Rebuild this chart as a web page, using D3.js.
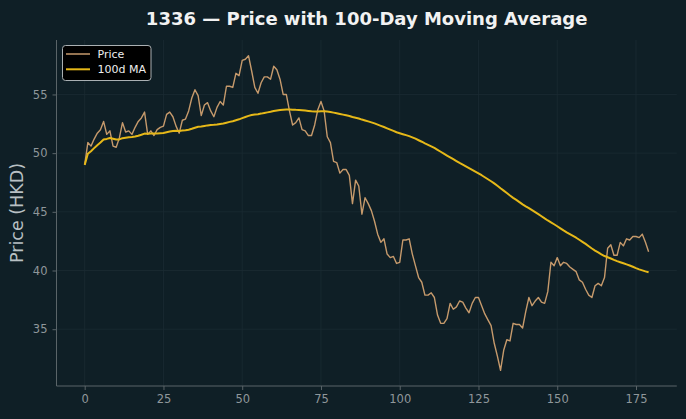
<!DOCTYPE html>
<html>
<head>
<meta charset="utf-8">
<script src="https://cdn.jsdelivr.net/npm/d3@7"></script>
<style>
  html, body { margin: 0; padding: 0; background: #0f1f26; }
  svg { display: block; font-family: "DejaVu Sans", sans-serif; }
</style>
</head>
<body>
<svg id="chart" width="686" height="419"></svg>
<script>
// ---- data ----
const title = "1336 — Price with 100-Day Moving Average";
const yLabel = "Price (HKD)";
const seriesNames = ["Price", "100d MA"];
const maWindow = 100;
const xTicks = [0, 25, 50, 75, 100, 125, 150, 175];
const yTicks = [35, 40, 45, 50, 55];
const price = [
  49.0, 50.9, 50.6, 51.2, 51.7, 52.0, 52.7, 51.6, 51.9, 50.6,
  50.5, 51.3, 52.6, 51.8, 51.9, 51.6, 52.2, 52.7, 53.0, 53.5,
  51.6, 51.9, 51.5, 52.0, 52.2, 52.3, 53.3, 53.5, 53.1, 52.3,
  51.7, 52.8, 52.9, 53.6, 54.7, 55.4, 54.9, 53.2, 54.1, 54.3,
  53.6, 53.1, 53.9, 54.4, 54.1, 55.7, 55.7, 55.6, 56.8, 56.6,
  57.9, 58.0, 58.3, 57.0, 55.6, 55.1, 56.0, 56.5, 56.5, 56.3,
  57.4, 57.1, 56.3, 55.0, 55.0, 53.6, 52.4, 52.6, 53.0, 52.0,
  51.9, 51.5, 51.5, 52.4, 53.7, 54.4, 53.6, 51.4, 50.9, 49.3,
  49.2, 48.3, 48.6, 48.6, 48.1, 45.7, 47.7, 47.2, 44.8, 46.2,
  45.7, 45.1, 44.2, 43.1, 42.4, 42.7, 41.4, 41.1, 41.2, 40.6,
  40.7, 42.6, 42.6, 42.7, 41.4, 40.4, 39.4, 39.0, 37.9, 37.9,
  38.1, 37.7, 36.2, 35.5, 35.5, 35.9, 37.2, 36.7, 36.9, 37.4,
  37.3, 36.8, 36.4, 37.2, 37.7, 37.7, 37.0, 36.3, 35.8, 35.3,
  33.8, 32.7, 31.5, 33.2, 34.1, 34.0, 35.5, 35.4, 35.4, 35.1,
  36.5, 37.7, 37.0, 37.4, 37.7, 37.3, 37.2, 38.2, 40.7, 40.4,
  41.1, 40.4, 40.7, 40.6, 40.3, 40.1, 39.9, 39.2, 39.0, 38.4,
  37.9, 37.7, 38.7, 38.9, 38.7, 39.4, 41.9, 42.2, 41.3, 41.3,
  42.4, 42.1, 42.7, 42.6, 42.9, 42.9, 42.8, 43.1, 42.4, 41.6
];

// 100-day rolling mean (min 1 observation), as in the original chart
const ma = price.map((_, i) => d3.mean(price.slice(Math.max(0, i - maWindow + 1), i + 1)));

// ---- layout ----
const W = 686, H = 419;
const m = { left: 56.5, right: 686 - 676.8, top: 40, bottom: 419 - 386 };
const svg = d3.select("#chart");
const bg = "#0f1f26";
svg.append("rect").attr("width", W).attr("height", H).attr("fill", bg);

const n = price.length;
const xPad = (n - 1) * 0.05;
const x = d3.scaleLinear().domain([-xPad, n - 1 + xPad]).range([m.left, W - m.right]);
const allV = price.concat(ma);
const yMin = d3.min(allV), yMax = d3.max(allV), yPad = (yMax - yMin) * 0.05;
const y = d3.scaleLinear().domain([yMin - yPad, yMax + yPad]).range([H - m.bottom, m.top]);

// grid
const grid = svg.append("g");
grid.selectAll("line.gx").data(xTicks).join("line")
  .attr("x1", d => x(d)).attr("x2", d => x(d))
  .attr("y1", m.top).attr("y2", H - m.bottom)
  .attr("stroke", "#1a2b32").attr("stroke-width", 0.8);
grid.selectAll("line.gy").data(yTicks).join("line")
  .attr("y1", d => y(d)).attr("y2", d => y(d))
  .attr("x1", m.left).attr("x2", W - m.right)
  .attr("stroke", "#1a2b32").attr("stroke-width", 0.8);

// axes
const axColor = "#5a6468", tickText = "#8f979b";
const xAxis = svg.append("g").attr("transform", `translate(0,${H - m.bottom})`)
  .call(d3.axisBottom(x).tickValues(xTicks).tickSize(4).tickPadding(5).tickSizeOuter(0));
const yAxis = svg.append("g").attr("transform", `translate(${m.left},0)`)
  .call(d3.axisLeft(y).tickValues(yTicks).tickSize(4).tickPadding(5).tickSizeOuter(0));
[xAxis, yAxis].forEach(g => {
  g.select(".domain").attr("stroke", axColor).attr("stroke-width", 1);
  g.selectAll(".tick line").attr("stroke", axColor);
  g.selectAll(".tick text").attr("fill", tickText).attr("font-size", 11.5)
    .attr("font-family", "DejaVu Sans, sans-serif");
});
xAxis.select(".domain").attr("d", `M${m.left},0H${W - m.right}`);
yAxis.select(".domain").attr("d", `M0,${H - m.bottom}V${m.top}`);

// lines
const line = d3.line().x((d, i) => x(i)).y(d => y(d));
const colors = ["#c69a6c", "#e6b818"];
svg.append("path").datum(price).attr("d", line)
  .attr("fill", "none").attr("stroke", colors[0]).attr("stroke-width", 1.4)
  .attr("stroke-linejoin", "round");
svg.append("path").datum(ma).attr("d", line)
  .attr("fill", "none").attr("stroke", colors[1]).attr("stroke-width", 2)
  .attr("stroke-linejoin", "round");

// title
svg.append("text").attr("x", (m.left + W - m.right) / 2).attr("y", 24.5)
  .attr("text-anchor", "middle").attr("fill", "#f2f2f2")
  .attr("font-size", 18).attr("font-weight", "bold").text(title);

// y label
svg.append("text")
  .attr("transform", `translate(23,${(m.top + H - m.bottom) / 2}) rotate(-90)`)
  .attr("text-anchor", "middle").attr("fill", "#b8c0c4").attr("font-size", 17.5)
  .text(yLabel);

// legend
const lg = svg.append("g");
lg.append("rect").attr("x", 62.5).attr("y", 45.5).attr("width", 88.5).attr("height", 35)
  .attr("rx", 3).attr("fill", "#000").attr("stroke", "#aab0b3").attr("stroke-width", 1);
seriesNames.forEach((name, i) => {
  const yy = 54 + i * 15.3;
  lg.append("line").attr("x1", 66).attr("x2", 90).attr("y1", yy).attr("y2", yy)
    .attr("stroke", colors[i]).attr("stroke-width", i === 0 ? 1.5 : 2);
  lg.append("text").attr("x", 97.5).attr("y", yy + 4).attr("fill", "#eeeeee")
    .attr("font-size", 11).text(name);
});
</script>
</body>
</html>
